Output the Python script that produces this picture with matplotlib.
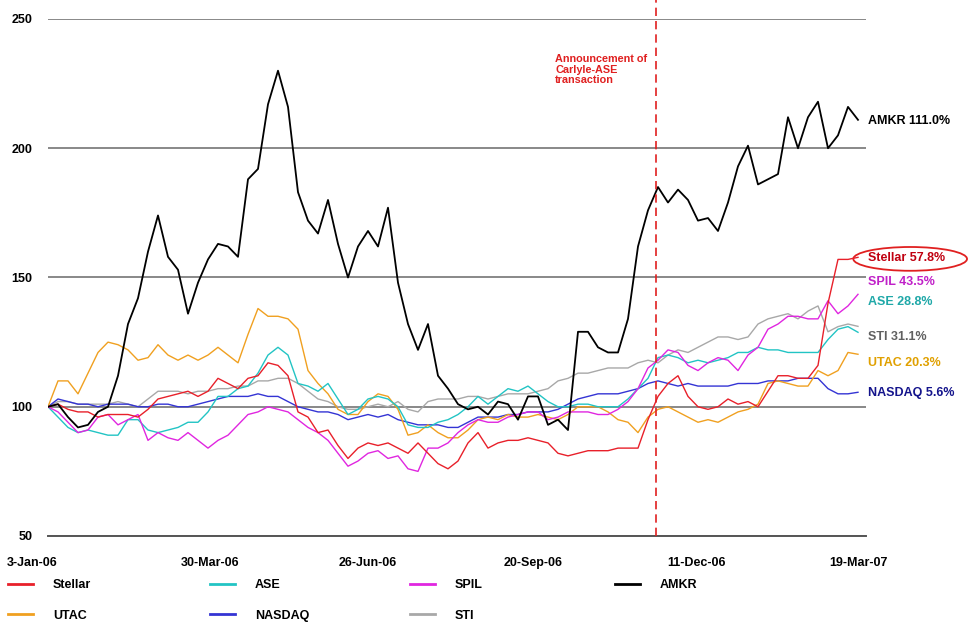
import numpy as np
import matplotlib
matplotlib.use("Agg")
from matplotlib import pyplot as plt
from matplotlib.patches import Ellipse
from matplotlib.lines import Line2D
from matplotlib import transforms

plt.rcParams['font.family'] = ['Liberation Sans', 'DejaVu Sans']
plt.rcParams['font.weight'] = 'bold'

# rebased share prices (3-Jan-06 = 100), roughly twice-weekly samples
stellar = [100, 101, 99, 98, 98, 96, 97, 97, 97, 96,
           99, 103, 104, 105, 106, 104, 106, 111, 109, 107,
           111, 112, 117, 116, 112, 98, 96, 90, 91, 85,
           80, 84, 86, 85, 86, 84, 82, 86, 82, 78,
           76, 79, 86, 90, 84, 86, 87, 87, 88, 87,
           86, 82, 81, 82, 83, 83, 83, 84, 84, 84,
           95, 104, 109, 112, 104, 100, 99, 100, 103, 101,
           102, 100, 106, 112, 112, 111, 111, 116, 140, 157,
           157, 157.8]
utac = [100, 110, 110, 105, 113, 121, 125, 124, 122, 118,
        119, 124, 120, 118, 120, 118, 120, 123, 120, 117,
        128, 138, 135, 135, 134, 130, 114, 109, 105, 99,
        97, 97, 102, 105, 104, 99, 89, 90, 93, 90,
        88, 88, 91, 95, 96, 95, 97, 96, 96, 97,
        96, 95, 97, 100, 100, 100, 98, 95, 94, 90,
        96, 99, 100, 98, 96, 94, 95, 94, 96, 98,
        99, 101, 109, 110, 109, 108, 108, 114, 112, 114,
        121, 120.3]
ase = [100, 96, 92, 90, 91, 90, 89, 89, 95, 95,
       91, 90, 91, 92, 94, 94, 98, 104, 104, 107,
       108, 113, 120, 123, 120, 109, 108, 106, 109, 103,
       97, 99, 103, 104, 103, 100, 93, 92, 92, 94,
       95, 97, 100, 104, 101, 104, 107, 106, 108, 105,
       102, 100, 100, 101, 101, 100, 100, 100, 103, 107,
       111, 119, 120, 119, 117, 118, 117, 118, 119, 121,
       121, 123, 122, 122, 121, 121, 121, 121, 126, 130,
       131, 128.8]
nasdaq = [100, 103, 102, 101, 101, 100, 101, 101, 101, 100,
          100, 101, 101, 100, 100, 101, 102, 103, 104, 104,
          104, 105, 104, 104, 102, 100, 99, 98, 98, 97,
          95, 96, 97, 96, 97, 95, 94, 93, 93, 93,
          92, 92, 94, 96, 96, 96, 97, 97, 98, 98,
          98, 99, 101, 103, 104, 105, 105, 105, 106, 107,
          109, 110, 109, 108, 109, 108, 108, 108, 108, 109,
          109, 109, 110, 110, 110, 111, 111, 111, 107, 105,
          105, 105.6]
spil = [100, 98, 94, 90, 91, 96, 97, 93, 95, 97,
        87, 90, 88, 87, 90, 87, 84, 87, 89, 93,
        97, 98, 100, 99, 98, 95, 92, 90, 87, 82,
        77, 79, 82, 83, 80, 81, 76, 75, 84, 84,
        86, 90, 93, 95, 94, 94, 96, 97, 98, 98,
        95, 96, 98, 98, 98, 97, 97, 99, 102, 107,
        115, 118, 122, 121, 116, 114, 117, 119, 118, 114,
        120, 123, 130, 132, 135, 135, 134, 134, 141, 136,
        139, 143.5]
sti = [100, 102, 102, 101, 101, 101, 101, 102, 101, 100,
       103, 106, 106, 106, 105, 106, 106, 107, 107, 108,
       108, 110, 110, 111, 111, 109, 106, 103, 102, 100,
       99, 99, 100, 101, 100, 102, 99, 98, 102, 103,
       103, 103, 104, 104, 103, 104, 105, 105, 105, 106,
       107, 110, 111, 113, 113, 114, 115, 115, 115, 117,
       118, 117, 120, 122, 121, 123, 125, 127, 127, 126,
       127, 132, 134, 135, 136, 134, 137, 139, 129, 131,
       132, 131.1]
amkr = [100, 101, 96, 92, 93, 98, 100, 112, 132, 142,
        160, 174, 158, 153, 136, 148, 157, 163, 162, 158,
        188, 192, 217, 230, 216, 183, 172, 167, 180, 163,
        150, 162, 168, 162, 177, 148, 132, 122, 132, 112,
        107, 101, 99, 100, 97, 102, 101, 95, 104, 104,
        93, 95, 91, 129, 129, 123, 121, 121, 134, 162,
        176, 185, 179, 184, 180, 172, 173, 168, 179, 193,
        201, 186, 188, 190, 212, 200, 212, 218, 200, 205,
        216, 211.0]

tick_labels = ['3-Jan-06', '30-Mar-06', '26-Jun-06', '20-Sep-06', '11-Dec-06', '19-Mar-07']
tick_pos = [0, 16.2, 32, 48.5, 64.9, 81.0]
announce_pos = 60.8

names = ['Stellar', 'UTAC', 'ASE', 'NASDAQ', 'SPIL', 'STI', 'AMKR']
series = [stellar, utac, ase, nasdaq, spil, sti, amkr]
colors = ['#e8202a', '#f0a020', '#22c4c4', '#3434d4', '#e026e0', '#a8a8a8', '#000000']
label_colors = ['#c00010', '#e0a000', '#1fa8a8', '#14148c', '#c020c8', '#606060', '#000000']
label_y = [157.5, 117.0, 140.7, 105.4, 148.4, 127.0, 210.5]
zorders = [8, 5, 6, 4, 7, 3, 9]

x = np.arange(len(amkr))

fig = plt.figure(figsize=(9.77, 6.33), dpi=100)
ax = fig.add_axes([48 / 977, 97 / 633, 818 / 977, 517 / 633])

for name, vals, c, z in zip(names, series, colors, zorders):
    lw = 1.3 if name == 'AMKR' else 1.0
    ax.plot(x, vals, color=c, lw=lw, zorder=z)

ax.set_xlim(0, 81.8)
ax.set_ylim(50, 250)
ax.set_yticks([50, 100, 150, 200, 250])
ax.yaxis.grid(True, color='#888888', lw=1.4)
ax.set_axisbelow(True)
for s in ['top', 'right', 'left']:
    ax.spines[s].set_visible(False)
ax.spines['bottom'].set_color('#555555')
ax.spines['bottom'].set_linewidth(1.4)

ax.set_xticks(tick_pos)
ax.set_xticklabels(tick_labels)
ax.tick_params(axis='both', length=0, labelsize=9)
ax.tick_params(axis='x', pad=15)
ax.tick_params(axis='y', pad=11)
# first date label sits a little left of the first point
lab0 = ax.get_xticklabels()[0]
lab0.set_transform(lab0.get_transform() + transforms.ScaledTranslation(-0.16, 0, fig.dpi_scale_trans))

# announcement marker
ax.axvline(announce_pos, ymin=0, ymax=1.037, color='#e02020', lw=1.2,
           ls=(0, (5, 3)), clip_on=False, zorder=10)
ax.text(announce_pos - 10.1, 236.5, 'Announcement of\nCarlyle-ASE\ntransaction',
        color='#e02020', fontsize=7.8, va='top', ha='left', linespacing=1.1)

# end-of-period returns
for name, vals, c, ly in zip(names, series, label_colors, label_y):
    ax.text(82.0, ly, f'{name} {vals[-1] - 100:.1f}%', color=c, fontsize=9,
            va='center', ha='left', clip_on=False)

ax.add_patch(Ellipse((1.054, 0.536), 0.139, 0.046, transform=ax.transAxes,
                     fill=False, edgecolor='#e02020', lw=1.3, clip_on=False))

# legend laid out in four fixed columns
handles = [Line2D([], [], color=c, lw=2) for c in colors]
cols = [[0, 1], [2, 3], [4, 5], [6]]
col_x = [8, 210, 410, 615]
for idx, cx in zip(cols, col_x):
    fig.legend([handles[i] for i in idx], [names[i] for i in idx],
               loc='upper left', bbox_to_anchor=(cx / 977, 54 / 633),
               frameon=False, fontsize=9, handlelength=2.0, handletextpad=1.6,
               labelspacing=1.5, borderpad=0, borderaxespad=0)

fig.savefig('out.png', dpi=100)
